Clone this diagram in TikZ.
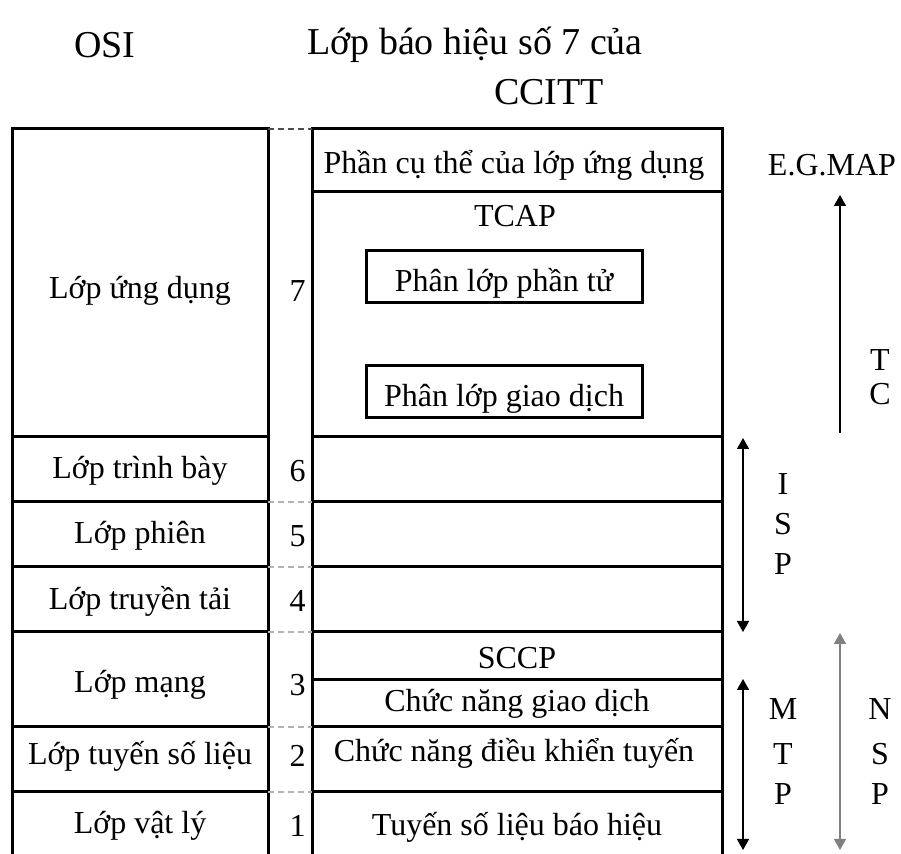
\documentclass[tikz,border=0pt]{standalone}
\usepackage{fontspec}
\setmainfont{Liberation Serif}
\usetikzlibrary{arrows.meta}
\begin{document}
\begin{tikzpicture}[
  x=0.5pt, y=-0.5pt,
  every node/.style={inner sep=0pt,font=\fontsize{16}{19}\selectfont},
  title/.style={font=\fontsize{19}{23}\selectfont},
  frame/.style={line width=1.5pt},
  sep/.style={gray!60,line width=0.6pt,dash pattern=on 3pt off 2pt},
  num/.style={anchor=east},
  inbox/.style={draw,line width=1.5pt,minimum width=138pt,minimum height=26pt,
    text height=14.5pt,text depth=0pt},
  tip/.style={line width=0.75pt,-{Triangle[width=6pt,length=5.5pt]}},
  span/.style={line width=0.75pt,{Triangle[width=6pt,length=5.5pt]}-{Triangle[width=6pt,length=5.5pt]}}
]
\useasboundingbox (0,0) rectangle (901,854);

% titles
\node[title] (osi) at (105,45) {OSI};
\node[title] (ss7) at (475,45) {Lớp báo hiệu số 7 của};
\node[title] (ccitt) at (549,92) {CCITT};

% OSI column
\draw[frame] (12,854) -- (12,129) -- (268,129) -- (268,854);
\foreach \y in {437,502,567,632,727,792}
  \draw[frame] (12,\y) -- (268,\y);

% SS7 column
\draw[frame] (312,854) -- (312,129) -- (722,129) -- (722,854);
\foreach \y in {192,437,502,567,632,680,727,792}
  \draw[frame] (312,\y) -- (722,\y);

% layer borders between the columns
\draw[sep,black!70] (268,129) -- (312,129);
\foreach \y in {502,567,632,727,792}
  \draw[sep] (268,\y) -- (312,\y);

% OSI layers
\node (app)  at (140,291) {Lớp ứng dụng};
\node (pres) at (140,471) {Lớp trình bày};
\node (sess) at (140,536) {Lớp phiên};
\node (trans) at (140,601) {Lớp truyền tải};
\node (net)  at (140,685) {Lớp mạng};
\node (link) at (140,756) {Lớp tuyến số liệu};
\node (phys) at (140,826) {Lớp vật lý};

% layer numbers
\node[num] (n7) at (306,291) {7};
\node[num] (n6) at (306,471) {6};
\node[num] (n5) at (306,536) {5};
\node[num] (n4) at (306,601) {4};
\node[num] (n3) at (306,685) {3};
\node[num] (n2) at (306,756) {2};
\node[num] (n1) at (306,826) {1};

% SS7 parts
\node (asp)  at (514,165) {Phần cụ thể của lớp ứng dụng};
\node (tcap) at (515,216) {TCAP};
\node[inbox] (comp) at (504,277) {Phân lớp phần tử};
\node[inbox] (trx)  at (504,392) {Phân lớp giao dịch};
\node (sccp) at (517,658) {SCCP};
\node (mtp3) at (517,704) {Chức năng giao dịch};
\node (mtp2) at (514,753) {Chức năng điều khiển tuyến};
\node (mtp1) at (517,827) {Tuyến số liệu báo hiệu};

% user parts and their spans
\node (egmap) at (832,165) {E.G.MAP};
\coordinate (tcTop) at (840,195);
\coordinate (tcBot) at (840,433);
\draw[tip] (tcBot) -- (tcTop);
\node (t) at (880,360) {T};
\node (c) at (880,394) {C};

\coordinate (ispTop) at (743,438);
\coordinate (ispBot) at (743,632);
\draw[span] (ispTop) -- (ispBot);
\node (isp1) at (783,484) {I};
\node (isp2) at (783,524) {S};
\node (isp3) at (783,564) {P};

\coordinate (mtpTop) at (743,679);
\coordinate (mtpBot) at (743,850);
\draw[span] (mtpTop) -- (mtpBot);
\node (mtpa) at (783,709) {M};
\node (mtpb) at (783,754) {T};
\node (mtpc) at (783,794) {P};

\coordinate (nspTop) at (840,633);
\coordinate (nspBot) at (840,850);
\draw[span,gray] (nspTop) -- (nspBot);
\node (nspa) at (880,709) {N};
\node (nspb) at (880,754) {S};
\node (nspc) at (880,794) {P};
\end{tikzpicture}
\end{document}
